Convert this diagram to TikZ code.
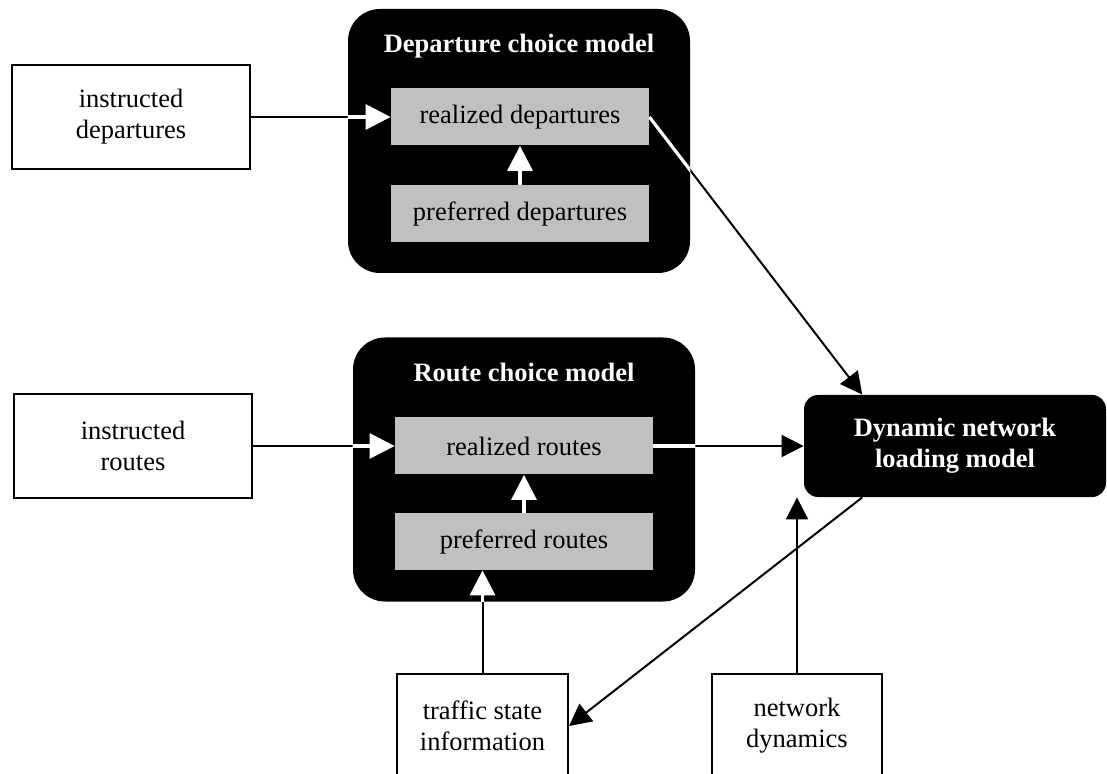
\documentclass[tikz,border=0pt]{standalone}
\usepackage{fontspec}
\setmainfont{Liberation Serif}
\usepackage{xcolor}
\usepackage{tikz}
\usetikzlibrary{calc}
\usetikzlibrary{positioning, backgrounds}
\usetikzlibrary{arrows.meta}
\tikzset{
	inbox/.style={draw, line width=1pt, fill=white, minimum width=119pt, minimum height=52pt, inner sep=0pt, align=center},
	model/.style={fill=black, rounded corners=16pt, minimum width=171pt, minimum height=132pt},
	graybox/.style={fill=BoxGray, minimum width=129pt, minimum height=28.5pt, inner sep=0pt},
	modeltitle/.style={text=white, font=\fontsize{13.25pt}{15.5pt}\selectfont\bfseries, align=center},
	conn/.style={-{Triangle[length=11pt, width=11pt]}, line width=1pt},
	wline/.style={white, line width=1.6pt},
	wconn/.style={wline, -{Triangle[length=12.5pt, width=12.5pt]}},
}
\definecolor{BoxGray}{RGB}{192, 192, 192}

\begin{document}
\begin{tikzpicture}[x=0.5pt, y=-0.5pt, font=\fontsize{13.25pt}{15.5pt}\selectfont]
	\useasboundingbox (0,0) rectangle (1107,774);
	\clip (0,0) rectangle (1107,774);
	% choice models
	\node[model] (depmodel) at (519,141) {};
	\node[modeltitle] (deptitle) at (519,46) {Departure choice model};
	\node[graybox] (realdep) at (520,117) {realized departures};
	\node[graybox] (prefdep) at (520,213.5) {preferred departures};
	
	\node[model] (routemodel) at (524,469.5) {};
	\node[modeltitle] (routetitle) at (524,372) {Route choice model};
	\node[graybox] (realroute) at (524,446) {realized routes};
	\node[graybox] (prefroute) at (524,541.5) {preferred routes};
	
	\node[model, modeltitle, minimum width=151pt, minimum height=51pt, rounded corners=7pt] (dnl) at (955,446) {Dynamic network\\loading model};
	
	% inputs
	\node[inbox] (instrdep) at (131,117) {instructed\\departures};
	\node[inbox] (instrroute) at (133,446) {instructed\\routes};
	\node[inbox, minimum width=85.5pt] (traffic) at (482.5,726) {traffic state\\information};
	\node[inbox, minimum width=85pt] (netdyn) at (797,726) {network\\dynamics};
	
	% connectors
	\draw[conn] (instrdep.east) -- (realdep.west);
	\draw[conn] (instrroute.east) -- (realroute.west);
	\draw[conn] (realdep.east) -- (dnl.151);
	\draw[conn] (realroute.east) -- (dnl.west);
	\draw[conn] (traffic.north) -- (traffic.north |- prefroute.south);
	\draw[conn] (netdyn.north) -- (netdyn.north |- dnl.south);
	\draw[conn] (dnl.209) -- (traffic.east);
	
	% white parts inside the models
	\begin{scope}
		\clip (depmodel.north west) rectangle (depmodel.south east)
			(routemodel.north west) rectangle (routemodel.south east);
		\draw[wconn] (instrdep.east) -- (realdep.west);
		\draw[wconn] (instrroute.east) -- (realroute.west);
		\draw[wline] (realdep.east) -- (dnl.151);
		\draw[wline] (realroute.east) -- (dnl.west);
		\draw[wconn] (traffic.north) -- (traffic.north |- prefroute.south);
	\end{scope}
	\draw[wconn] (prefdep) -- (realdep);
	\draw[wconn] (prefroute) -- (realroute);
\end{tikzpicture}
\end{document}
